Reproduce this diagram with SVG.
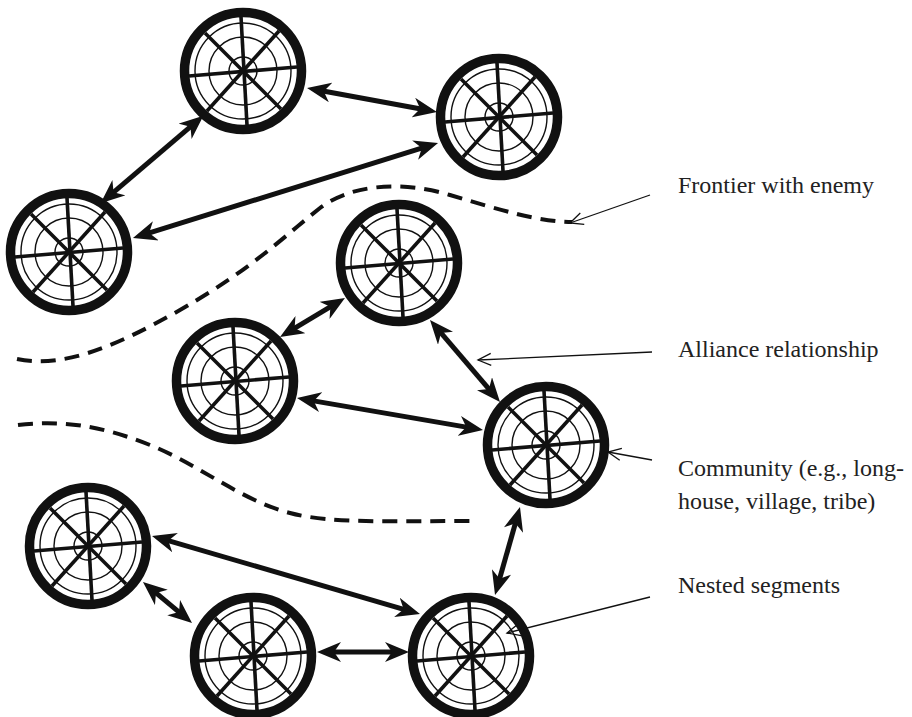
<svg xmlns="http://www.w3.org/2000/svg" xmlns:xlink="http://www.w3.org/1999/xlink" width="912" height="717" viewBox="0 0 912 717">
<style>
.ring{fill:#fff;stroke:#111;stroke-width:9.5}
.seg{fill:none;stroke:#111;stroke-width:1.4}
.spoke{stroke:#111;stroke-width:3.6;stroke-linecap:butt}
.link{stroke:#111;stroke-width:5;fill:none;marker-start:url(#ah);marker-end:url(#ah)}
.frontier{fill:none;stroke:#111;stroke-width:4;stroke-dasharray:15 9}
.pointer{fill:none;stroke:#111;stroke-width:1.3;marker-end:url(#open)}
.label{font-family:"Liberation Serif","Times New Roman",serif;font-size:24px;fill:#222}
</style>
<defs>
<marker id="ah" markerUnits="userSpaceOnUse" markerWidth="24" markerHeight="20" viewBox="0 0 24 20" refX="16" refY="10" orient="auto-start-reverse">
<path d="M24,10 L0,0 L7,10 L0,20 Z" fill="#111"/>
</marker>
<marker id="open" markerUnits="userSpaceOnUse" markerWidth="16" markerHeight="14" viewBox="0 0 16 14" refX="14" refY="7" orient="auto">
<path d="M1,1 L14,7 L1,13" fill="none" stroke="#111" stroke-width="1.3"/>
</marker>
<g id="community">
<circle class="ring" r="58.5"/>
<circle class="seg" r="48"/>
<circle class="seg" r="34"/>
<circle class="seg" r="14"/>
<line class="spoke" x1="-54" y1="5" x2="54" y2="-4"/>
<line class="spoke" x1="-2" y1="-54" x2="4" y2="54"/>
<line class="spoke" x1="-38" y1="-38" x2="38" y2="38"/>
<line class="spoke" x1="36" y1="-40" x2="-36" y2="40"/>
</g>
</defs>
<rect width="912" height="717" fill="#fff"/>
<g id="frontiers">
<path class="frontier" d="M17,359 C60,368 110,350 180,310 C250,270 280,240 320,208 C350,185 400,180 450,195 C500,210 540,222 572,222"/>
<path class="frontier" d="M18,425 C60,420 100,425 150,445 C200,465 240,500 290,513 C330,524 400,521 470,521"/>
</g>
<g id="node1" transform="translate(243,71)"><use xlink:href="#community"/></g>
<g id="node2" transform="translate(499,117)"><use xlink:href="#community"/></g>
<g id="node3" transform="translate(69,252)"><use xlink:href="#community"/></g>
<g id="node4" transform="translate(399,263)"><use xlink:href="#community"/></g>
<g id="node5" transform="translate(235,381)"><use xlink:href="#community"/></g>
<g id="node6" transform="translate(546,445)"><use xlink:href="#community"/></g>
<g id="node7" transform="translate(88,546)"><use xlink:href="#community"/></g>
<g id="node8" transform="translate(253,656)"><use xlink:href="#community"/></g>
<g id="node9" transform="translate(471,656)"><use xlink:href="#community"/></g>
<g id="connectors">
<line class="link" x1="197.3" y1="120.9" x2="106.7" y2="198.1"/>
<line class="link" x1="314.9" y1="89.5" x2="429.1" y2="110.5"/>
<line class="link" x1="430.4" y1="145.4" x2="140.6" y2="235.6"/>
<line class="link" x1="338.1" y1="302.1" x2="286.9" y2="332.9"/>
<line class="link" x1="435.2" y1="326.1" x2="494.8" y2="395.9"/>
<line class="link" x1="304.9" y1="399.4" x2="475.1" y2="428.6"/>
<line class="link" x1="517.8" y1="514.7" x2="497.2" y2="587.3"/>
<line class="link" x1="159.7" y1="538.2" x2="412.3" y2="611.8"/>
<line class="link" x1="149.1" y1="587.1" x2="185.9" y2="617.9"/>
<line class="link" x1="325" y1="652" x2="401" y2="652"/>
</g>
<g id="pointers">
<line class="pointer" x1="650" y1="195" x2="570" y2="223"/>
<line class="pointer" x1="652" y1="352" x2="478" y2="360"/>
<line class="pointer" x1="652" y1="460" x2="608" y2="452"/>
<line class="pointer" x1="650" y1="597" x2="507" y2="633"/>
</g>
<g id="labels">
<text class="label" x="678" y="193">Frontier with enemy</text>
<text class="label" x="678" y="357">Alliance relationship</text>
<text class="label" x="678" y="476">Community (e.g., long-</text>
<text class="label" x="678" y="509">house, village, tribe)</text>
<text class="label" x="678" y="593">Nested segments</text>
</g>
</svg>
